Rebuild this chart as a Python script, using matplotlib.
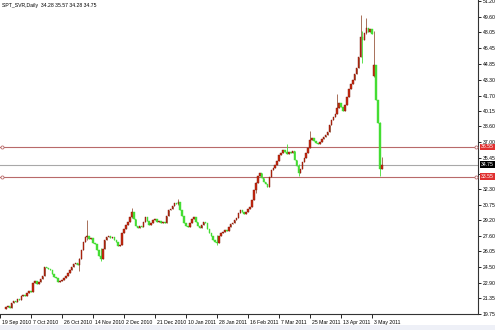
import matplotlib
matplotlib.use('Agg')
import matplotlib.pyplot as plt
import matplotlib.transforms as mtransforms
from matplotlib.patches import Rectangle

# daily closes of SPT_SVR (one value per bar)
closes = [
    20.5, 20.6, 20.4, 20.9, 21.1, 21.0, 21.3, 21.2, 21.6, 21.7,
    21.6, 21.9, 22.1, 22.0, 22.9, 23.1, 22.8, 23.0, 23.3, 23.6,
    24.5, 24.4, 24.3, 24.2, 23.8, 23.5, 23.4, 22.95, 23.1, 23.2,
    23.4, 23.6, 23.9, 24.2, 24.5, 24.8, 24.9, 24.7, 25.3, 26.2,
    27.0, 27.5, 27.6, 27.3, 27.4, 26.9, 26.8, 26.2, 25.6, 25.3,
    26.3, 27.2, 27.5, 27.6, 27.4, 27.5, 27.2, 27.0, 26.6, 26.7,
    27.9, 28.3, 28.7, 29.0, 29.5, 30.0, 29.3, 28.6, 28.4, 28.6,
    28.5, 29.0, 29.5, 29.1, 28.7, 28.9, 29.2, 29.3, 29.0, 29.1,
    28.9, 29.0, 28.9, 29.6, 30.2, 30.3, 30.6, 30.9, 30.8, 31.0,
    30.2, 29.6, 28.9, 28.6, 28.5, 28.9, 29.3, 29.5, 29.0, 28.6,
    28.4, 28.7, 29.0, 28.9, 28.3, 27.9, 27.6, 27.2, 27.0, 26.9,
    27.6, 27.9, 28.0, 28.2, 28.1, 28.5, 28.8, 28.9, 29.2, 29.4,
    29.9, 30.2, 30.0, 29.8, 30.0, 30.3, 30.5, 31.2, 32.2, 32.9,
    33.6, 33.9, 33.4, 33.0, 32.8, 32.5, 33.5, 34.2, 34.4, 34.7,
    35.1, 35.7, 35.9, 36.2, 36.0, 35.8, 36.0, 35.9, 36.1, 35.2,
    34.6, 33.9, 34.3, 35.0, 35.4, 35.9, 36.4, 37.2, 37.4, 37.1,
    36.9, 36.8, 37.0, 37.3, 37.5, 37.7, 38.0, 38.7, 39.2, 39.5,
    39.9, 40.5, 41.0, 40.6, 40.2, 40.8, 41.6, 42.4, 42.9, 43.3,
    43.9, 44.5, 45.6, 47.6, 47.3, 48.0, 48.5, 48.1, 48.4, 47.9,
    44.8, 41.3, 38.9, 34.3, 34.75,
]
first_open = 20.3
# bars that opened away from the previous close
gap_idx = [190, 194]
gap_open = [43.7, 34.28]

# visible wicks
wick_idx = [38, 42, 49, 65, 89, 109, 129, 145, 151, 157, 171, 183, 184, 186, 190, 193, 194]
wick_hi = [25.4, 29.2, 26.4, 30.4, 31.3, 27.7, 33.0, 36.8, 34.8, 38.1, 41.9, 49.8, 48.2, 49.5, 48.2, 39.0, 35.57]
wick_lo = [24.1, 27.2, 25.1, 29.4, 30.7, 26.7, 31.9, 35.9, 33.6, 36.4, 40.4, 45.6, 45.0, 47.9, 43.6, 33.6, 34.28]

date_labels = ['19 Sep 2010', '7 Oct 2010', '26 Oct 2010', '14 Nov 2010', '2 Dec 2010',
               '21 Dec 2010', '10 Jan 2011', '28 Jan 2011', '16 Feb 2011', '7 Mar 2011',
               '25 Mar 2011', '13 Apr 2011', '3 May 2011']
date_pos = [-3, 13, 29, 45, 61, 77, 93, 109, 125, 141, 157, 173, 189]

price_ticks = [19.75, 21.35, 22.90, 24.50, 26.05, 27.60, 29.20, 30.75, 32.30, 33.85,
               35.45, 37.00, 38.60, 40.15, 41.70, 43.30, 44.85, 46.45, 48.05, 49.60, 51.20]

red_levels = [36.55, 33.55]
bid = 34.75
title = 'SPT_SVR,Daily  34.28 35.57 34.28 34.75'

# build opens / highs / lows
opens = [first_open] + closes[:-1]
for i, o in zip(gap_idx, gap_open):
    opens[i] = o
highs = [max(o, c) for o, c in zip(opens, closes)]
lows = [min(o, c) for o, c in zip(opens, closes)]
for i, h, l in zip(wick_idx, wick_hi, wick_lo):
    highs[i] = max(highs[i], h)
    lows[i] = min(lows[i], l)

plt.rcParams['font.family'] = ['Liberation Sans', 'DejaVu Sans']
fs = 3.7

fig = plt.figure(figsize=(4.95, 3.3), dpi=100)
fig.patch.set_facecolor('white')
fig.patches.append(Rectangle((0, 0), 1, 5 / 330, transform=fig.transFigure,
                             facecolor='#eef0f7', edgecolor='none'))
ax = fig.add_axes([0, 16 / 330, 478 / 495, 314 / 330])

bull_body, bull_edge = '#cc2a10', '#7a1508'
bear_body = '#44dd33'
x = list(range(len(closes)))
for i in x:
    o, c = opens[i], closes[i]
    up = c >= o
    wc = '#9a5a40' if up else bear_body
    ax.vlines(i, lows[i], highs[i], color=wc, linewidth=0.6, zorder=2)
    ax.bar(i, max(abs(c - o), 0.04), bottom=min(o, c), width=0.8,
           color=bull_body if up else bear_body,
           edgecolor=bull_edge if up else bear_body, linewidth=0.3, zorder=3)

# horizontal levels
trans = mtransforms.blended_transform_factory(ax.transAxes, ax.transData)
for lv in red_levels:
    ax.axhline(lv, color='#b86a6a', linewidth=0.8, zorder=1)
    ax.plot([0.004, 0.996], [lv, lv], 'o', ms=2.2, mfc='white', mec='#b86a6a',
            mew=0.6, transform=trans, clip_on=False, zorder=4)
    ax.text(1.006, lv, f'{lv:.2f}', transform=trans, fontsize=fs, color='white',
            va='center', ha='left', zorder=6,
            bbox=dict(facecolor='#e03030', edgecolor='none', pad=0.6), clip_on=False)
ax.axhline(bid, color='#a8a8a8', linewidth=0.8, zorder=1)
ax.text(1.006, bid, f'{bid:.2f}', transform=trans, fontsize=fs, color='white',
        va='center', ha='left', zorder=6,
        bbox=dict(facecolor='black', edgecolor='none', pad=0.6), clip_on=False)

ax.set_xlim(-1.5, 243.6)
ax.set_ylim(19.75, 19.75 + 314 / 9.95)

ax.yaxis.tick_right()
ax.set_yticks(price_ticks)
# the 33.85 label sits under the red level box, so it is not shown
ax.set_yticklabels(['' if t == 33.85 else f'{t:.2f}' for t in price_ticks])
ax.tick_params(axis='y', direction='out', length=2, width=0.6, labelsize=fs, pad=1.5)

ax.set_xticks(date_pos)
ax.set_xticklabels(date_labels, ha='left')
ax.tick_params(axis='x', direction='out', length=3, width=0.6, labelsize=fs, pad=1.5)
for lab in ax.get_xticklabels():
    lab.set_transform(lab.get_transform() + mtransforms.ScaledTranslation(2 / 100, 0, fig.dpi_scale_trans))

for s in ['left', 'top']:
    ax.spines[s].set_visible(False)
for s in ['right', 'bottom']:
    ax.spines[s].set_linewidth(0.8)
    ax.spines[s].set_color('#333333')

fig.text(2 / 495, 1 - 5 / 330, title, fontsize=fs, va='center', ha='left')

fig.savefig('out.png', dpi=100)
